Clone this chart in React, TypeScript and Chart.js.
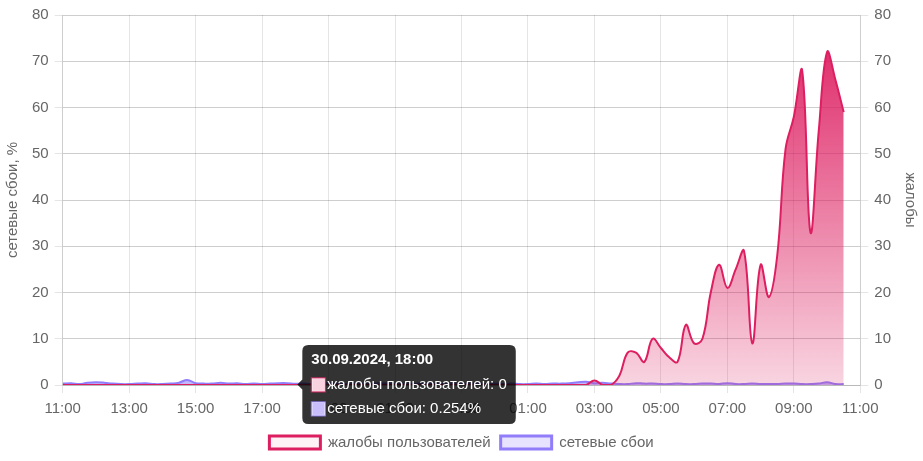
import React, { useEffect, useRef } from "react";
import { Chart, registerables } from "chart.js";

Chart.register(...registerables);

// Time axis: 11:00 (30.09.2024) to 11:00 next day, one point every 15 minutes
const START_YEAR = 2024;
const START_MONTH = 8; // September (0-based)
const START_DAY = 30;
const START_HOUR = 11;
const STEP_MIN = 15;
const AXIS_SPAN_MIN = 1440;
const X_TICK_STEP_MIN = 120;
const Y_MIN = 0;
const Y_MAX = 80;
const Y_STEP = 10;
const ACTIVE_INDEX = 28; // 18:00

const LABEL_COMPLAINTS = "жалобы пользователей";
const LABEL_FAILURES = "сетевые сбои";
const TITLE_LEFT = "сетевые сбои, %";
const TITLE_RIGHT = "жалобы";

// жалобы пользователей (15-minute steps from 11:00)
const complaints = [
  0, 0, 0, 0, 0, 0, 0, 0, 0, 0, 0, 0, 0, 0, 0, 0,
  0, 0, 0, 0, 0, 0, 0, 0, 0, 0, 0, 0, 0, 0, 0, 0,
  0, 0, 0, 0, 0, 0, 0, 0, 0, 0, 0, 0, 0, 0, 0, 0,
  0, 0, 0, 0, 0, 0, 0, 0, 0, 0, 0, 0, 0, 0, 0, 0,
  1, 0, 0, 2, 7, 7, 5, 10, 8, 6, 5, 13, 9, 10, 20, 26,
  21, 25, 29, 9, 26, 19, 28, 51, 58, 68, 33, 55, 72, 66, 59,
];

// сетевые сбои, % (15-minute steps from 11:00)
const failures = [
  0.3, 0.4, 0.2, 0.5, 0.6, 0.5, 0.3, 0.2, 0.2, 0.3, 0.4, 0.2, 0.2, 0.3, 0.5, 1.1,
  0.4, 0.3, 0.3, 0.5, 0.3, 0.4, 0.2, 0.3, 0.2, 0.3, 0.4, 0.4, 0.254, 0.3, 0.2, 0.3,
  0.4, 0.3, 0.2, 0.3, 0.3, 0.2, 0.4, 0.3, 0.2, 0.3, 0.2, 0.3, 0.4, 0.3, 0.2, 0.3,
  0.2, 0.3, 0.3, 0.2, 0.3, 0.2, 0.3, 0.2, 0.2, 0.3, 0.2, 0.3, 0.3, 0.4, 0.6, 0.7,
  0.4, 0.5, 0.3, 0.2, 0.2, 0.4, 0.3, 0.3, 0.2, 0.2, 0.3, 0.2, 0.2, 0.3, 0.3, 0.2,
  0.4, 0.2, 0.2, 0.3, 0.2, 0.2, 0.2, 0.3, 0.3, 0.2, 0.2, 0.3, 0.6, 0.2, 0.2,
];

const PINK = "221, 30, 96";
const PURPLE = "145, 125, 250";

const pad2 = (n: number) => (n < 10 ? "0" + n : "" + n);

function timeLabel(minutes: number) {
  const total = START_HOUR * 60 + minutes;
  const h = Math.floor(total / 60) % 24;
  const m = total % 60;
  return pad2(h) + ":" + pad2(m);
}

function dateTimeLabel(minutes: number) {
  const d = new Date(START_YEAR, START_MONTH, START_DAY, START_HOUR, 0, 0);
  d.setMinutes(d.getMinutes() + minutes);
  return (
    pad2(d.getDate()) +
    "." +
    pad2(d.getMonth() + 1) +
    "." +
    d.getFullYear() +
    ", " +
    pad2(d.getHours()) +
    ":" +
    pad2(d.getMinutes())
  );
}

function pinkFill(context: any) {
  const chart = context.chart;
  const area = chart.chartArea;
  if (!area) return `rgba(${PINK}, 0.3)`;
  const g = chart.ctx.createLinearGradient(0, area.top, 0, chart.height + 10);
  g.addColorStop(0, `rgba(${PINK}, 1)`);
  g.addColorStop(1, `rgba(${PINK}, 0)`);
  return g;
}

export default function App() {
  const canvasRef = useRef<HTMLCanvasElement | null>(null);

  useEffect(() => {
    const canvas = canvasRef.current;
    if (!canvas) return;
    Chart.defaults.font.family = "'Liberation Sans', Arial, Helvetica, sans-serif";
    Chart.defaults.font.size = 15;
    Chart.defaults.color = "#666";

    const chart = new Chart(canvas, {
      type: "line",
      data: {
        datasets: [
          {
            label: LABEL_COMPLAINTS,
            data: complaints.map((v, i) => ({ x: i * STEP_MIN, y: v })),
            yAxisID: "y1",
            borderColor: `rgb(${PINK})`,
            backgroundColor: pinkFill,
            borderWidth: 2,
            fill: "origin",
            tension: 0.4,
            pointRadius: 0,
            pointHoverRadius: 0,
          },
          {
            label: LABEL_FAILURES,
            data: failures.map((v, i) => ({ x: i * STEP_MIN, y: v })),
            yAxisID: "y",
            borderColor: `rgb(${PURPLE})`,
            backgroundColor: `rgba(${PURPLE}, 0.55)`,
            borderWidth: 2,
            fill: "origin",
            tension: 0.4,
            pointRadius: 0,
            pointHoverRadius: 0,
          },
        ],
      },
      options: {
        animation: false,
        responsive: true,
        maintainAspectRatio: false,
        interaction: { mode: "index", intersect: false },
        layout: { padding: { top: 1, bottom: 1 } },
        scales: {
          x: {
            type: "linear",
            min: 0,
            max: AXIS_SPAN_MIN,
            grid: { color: "rgba(0,0,0,0.1)" },
            ticks: {
              stepSize: X_TICK_STEP_MIN,
              maxRotation: 0,
              autoSkip: false,
              padding: 7,
              callback: (v: any) => timeLabel(Number(v)),
            },
          },
          y: {
            position: "left",
            min: Y_MIN,
            max: Y_MAX,
            ticks: { stepSize: Y_STEP, padding: 6 },
            grid: { color: "rgba(0,0,0,0.1)" },
            title: { display: true, text: TITLE_LEFT },
          },
          y1: {
            position: "right",
            min: Y_MIN,
            max: Y_MAX,
            ticks: { stepSize: Y_STEP, padding: 6 },
            grid: { color: "rgba(0,0,0,0.1)" },
            title: { display: true, text: TITLE_RIGHT },
          },
        },
        plugins: {
          legend: {
            position: "bottom",
            labels: {
              boxWidth: 51,
              boxHeight: 13,
              generateLabels: (ch: any) => {
                const items = Chart.defaults.plugins.legend.labels.generateLabels(ch);
                items.forEach((it: any) => {
                  it.lineWidth = 3;
                  it.fillStyle =
                    it.datasetIndex === 0 ? `rgba(${PINK}, 0.06)` : `rgba(${PURPLE}, 0.22)`;
                });
                return items;
              },
            },
          },
          tooltip: {
            enabled: true,
            padding: { x: 9, y: 6 },
            titleFont: { size: 15, weight: "bold" },
            bodyFont: { size: 15 },
            titleMarginBottom: 7,
            bodySpacing: 6,
            boxWidth: 14,
            boxHeight: 14,
            callbacks: {
              title: (items: any[]) => dateTimeLabel(items[0].dataIndex * STEP_MIN),
              label: (ctx: any) =>
                ctx.dataset.label +
                ": " +
                ctx.parsed.y +
                (ctx.datasetIndex === 1 ? "%" : ""),
              labelColor: (ctx: any) =>
                ctx.datasetIndex === 0
                  ? { borderColor: `rgb(${PINK})`, backgroundColor: `rgba(${PINK}, 0.2)` }
                  : { borderColor: `rgb(${PURPLE})`, backgroundColor: `rgba(${PURPLE}, 0.5)` },
            },
          },
        },
      },
    } as any);

    const active = [
      { datasetIndex: 0, index: ACTIVE_INDEX },
      { datasetIndex: 1, index: ACTIVE_INDEX },
    ];
    const meta = chart.getDatasetMeta(0);
    const pt: any = meta.data[ACTIVE_INDEX];
    chart.tooltip?.setActiveElements(active, { x: pt.x, y: pt.y });
    chart.update();

    return () => chart.destroy();
  }, []);

  return (
    <div style={{ position: "absolute", left: 0, top: 0, width: "923px", height: "461px" }}>
      <canvas ref={canvasRef} />
    </div>
  );
}
